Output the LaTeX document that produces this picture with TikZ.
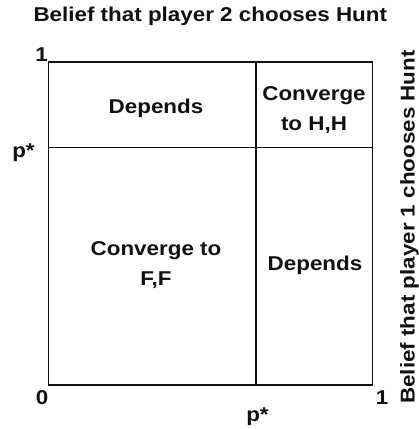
\documentclass[tikz,border=0pt]{standalone}
\usepackage{fontspec}
\setmainfont{Liberation Sans}[FakeStretch=1.12]
\usetikzlibrary{positioning}
\definecolor{inkblack}{HTML}{111111}

\begin{document}
\begin{tikzpicture}[x=1pt, y=1pt, text=inkblack,
  celltext/.style={align=center, inner sep=0pt, font=\bfseries\fontsize{20}{29.5}\selectfont},
  ticklabel/.style={anchor=base, inner sep=0pt, font=\bfseries\fontsize{20}{24}\selectfont},
  axistitle/.style={anchor=base, inner sep=0pt, font=\bfseries\fontsize{20}{24}\selectfont}]

% Canvas
\useasboundingbox (0,0) rectangle (419,429);

% Corners of the belief square
\coordinate (SW) at (48.5,44);
\coordinate (NE) at (372.5,367);
\coordinate (PB) at (256,44);
\coordinate (PT) at (256,367);
\coordinate (PL) at (48.5,281.5);
\coordinate (PR) at (372.5,281.5);

% Square and the two threshold lines
\draw[inkblack, line width=1.2pt] (SW) rectangle (NE);
\draw[inkblack, line width=1.8pt] (PB) -- (PT);
\draw[inkblack, line width=1.8pt] (PL) -- (PR);

% Region labels
\node[celltext, anchor=base] (dependsTL) at (156,315) {Depends};
\node[celltext] (convHH) at (314,319) {Converge\\to H,H};
\node[celltext] (convFF) at (156,164) {Converge to\\F,F};
\node[celltext, anchor=base] (dependsBR) at (315,158) {Depends};

% Axis ticks
\node[ticklabel] (oneTop) at (41.7,367.5) {1};
\node[ticklabel] (pstarLeft) at (23.5,271) {p*};
\node[ticklabel] (zero) at (42,24) {0};
\node[ticklabel] (oneRight) at (382,24) {1};
\node[ticklabel] (pstarBottom) at (257.5,7.5) {p*};

% Axis titles
\node[axistitle] (titleTop) at (210.3,407.3) {Belief that player 2 chooses Hunt};
\node[axistitle, rotate=90] (titleRight) at (414.5,202) {Belief that player 1 chooses Hunt};

\end{tikzpicture}
\end{document}
